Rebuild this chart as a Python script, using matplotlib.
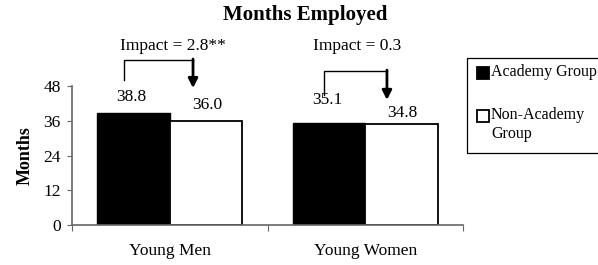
import numpy as np
import matplotlib
matplotlib.use("Agg")
import matplotlib.pyplot as plt
from matplotlib.patches import Rectangle

plt.rcParams['font.family'] = ['Liberation Serif', 'DejaVu Serif']

categories = ["Young Men", "Young Women"]
academy = [38.8, 35.1]
non_academy = [36.0, 34.8]
impacts = ["Impact = 2.8**", "Impact = 0.3"]
yticks = [0, 12, 24, 36, 48]
legend_labels = ["Academy Group", "Non-Academy\nGroup"]

W, H = 598, 265
fs = 12.5
fig = plt.figure(figsize=(W / 100, H / 100), dpi=100)
ax = fig.add_axes([72 / W, 1 - 225 / H, 391 / W, 139 / H])

x = np.arange(len(categories))
w = 0.37
ax.bar(x - w / 2, academy, w, color='black', edgecolor='black', linewidth=1)
ax.bar(x + w / 2, non_academy, w, color='white', edgecolor='black', linewidth=1.3)

# value labels (offsets vary because of the impact arrows)
label_y_a = [44.2, 43.2]
label_y_n = [41.4, 38.7]
for i in range(len(categories)):
    ax.text(x[i] - w / 2 - 0.01, label_y_a[i], f"{academy[i]:.1f}", ha='center', va='center', fontsize=fs)
    ax.text(x[i] + w / 2 + 0.005, label_y_n[i], f"{non_academy[i]:.1f}", ha='center', va='center', fontsize=fs)

# impact brackets: left x, right x, left bottom, top, arrow tip, text x
brackets = [
    (-0.234, 0.119, 50.1, 57.0, 47.3, 0.017),
    (0.789, 1.111, 44.9, 53.2, 43.2, 0.958),
]
for (lx, rx, lb, top, tip, tx), txt in zip(brackets, impacts):
    ax.plot([lx, lx, rx], [lb, top, top], color='black', lw=1, clip_on=False)
    ax.annotate("", xy=(rx, tip), xytext=(rx, top + 0.3),
                arrowprops=dict(arrowstyle='-|>,head_width=0.28,head_length=0.55',
                                lw=2, color='black', shrinkA=0, shrinkB=0),
                annotation_clip=False)
    ax.text(tx, 61.9, txt, ha='center', va='center', fontsize=fs)

ax.set_xlim(-0.5, 1.5)
ax.set_ylim(0, 48)
ax.set_yticks(yticks)
ax.tick_params(axis='y', labelsize=fs, length=3.6, color='#666666', pad=4.5)
ax.set_xticks([-0.5, 0.5, 1.5])
ax.set_xticklabels([])
ax.tick_params(axis='x', which='major', length=4, color='#666666')
ax.set_xticks(x, minor=True)
ax.set_xticklabels(categories, minor=True, fontsize=fs)
ax.tick_params(axis='x', which='minor', length=0, pad=13)

for s in ['top', 'right']:
    ax.spines[s].set_visible(False)
for s in ['left', 'bottom']:
    ax.spines[s].set_color('#666666')
    ax.spines[s].set_linewidth(1.2)

ax.set_ylabel("Months", fontweight='bold', fontsize=13, labelpad=7)

fig.text(305 / W, 1 - 15 / H, "Months Employed", ha='center', va='center', fontsize=15, fontweight='bold')

# legend drawn by hand so the square sits on the first line of the two-line label
tf = fig.transFigure
fig.patches.append(Rectangle((467 / W, 1 - 153 / H), 160 / W, 95 / H, transform=tf,
                             facecolor='white', edgecolor='black', lw=0.9))
legend_y = [73, 116]
legend_fill = ['black', 'white']
for yy, fc, lab in zip(legend_y, legend_fill, legend_labels):
    fig.patches.append(Rectangle((477 / W, 1 - (yy + 6) / H), 12 / W, 12 / H, transform=tf,
                                 facecolor=fc, edgecolor='black', lw=1.3))
    fig.text(491 / W, 1 - (yy - 9) / H, lab, ha='left', va='top', fontsize=11.5, linespacing=1.25)

fig.savefig("out.png", dpi=100)
